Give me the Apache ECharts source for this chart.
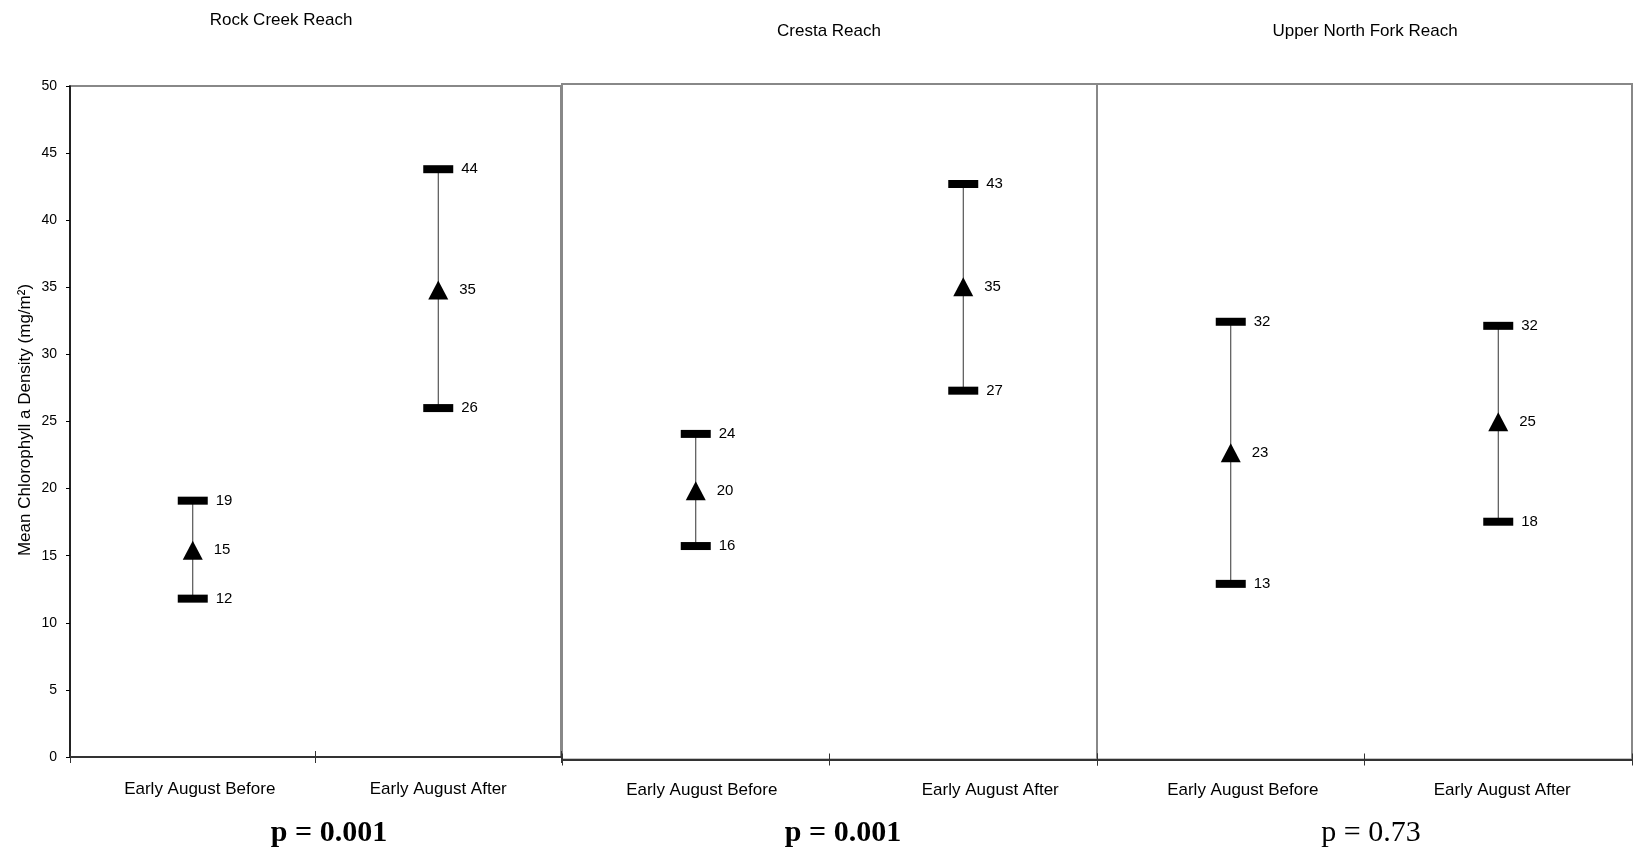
<!DOCTYPE html>
<html>
<head>
<meta charset="utf-8">
<script src="https://cdn.jsdelivr.net/npm/echarts@6/dist/echarts.min.js"></script>
<style>
html,body{margin:0;padding:0;background:#fff;}
#chart{width:1634px;height:859px;}
</style>
</head>
<body>
<div id="chart"></div>
<script>
// ---- data ----
const reaches = ['Rock Creek Reach', 'Cresta Reach', 'Upper North Fork Reach'];
const categories = ['Early August Before', 'Early August After'];
const meanRock = [15.4, 34.8];
const lowRock = [11.8, 26.0];
const highRock = [19.1, 43.8];
const meanCresta = [19.9, 35.0];
const lowCresta = [15.8, 27.3];
const highCresta = [24.1, 42.6];
const meanUpper = [22.7, 25.0];
const lowUpper = [13.0, 17.6];
const highUpper = [32.4, 32.1];
const pValues = ['p = 0.001', 'p = 0.001', 'p = 0.73'];
const pBold = [true, true, false];
const yMin = 0, yMax = 50, yStep = 5;
const yAxisTitle = 'Mean Chlorophyll a Density (mg/m\u00B2)';

// ---- layout ----
const panels = [
  {grid: {left: 70, top: 86, width: 491, height: 671}, mean: meanRock, low: lowRock, high: highRock, titleX: 281, titleY: 20, pX: 329, labelShift: [7, 0]},
  {grid: {left: 562, top: 84, width: 535, height: 675.5}, mean: meanCresta, low: lowCresta, high: highCresta, titleX: 829, titleY: 31, pX: 843, labelShift: [6, 27]},
  {grid: {left: 1097, top: 84, width: 535, height: 675.5}, mean: meanUpper, low: lowUpper, high: highUpper, titleX: 1365, titleY: 31, pX: 1371, labelShift: [12, 4]}
];

const FONT = 'Arial, "Liberation Sans", sans-serif';
const chart = echarts.init(document.getElementById('chart'), null, {renderer: 'canvas'});

const grid = [], xAxis = [], yAxis = [], series = [], graphic = [];

panels.forEach((p, i) => {
  grid.push(Object.assign({show: true, borderColor: '#888', borderWidth: 2, backgroundColor: 'transparent', containLabel: false}, p.grid));
  const rich = {};
  p.labelShift.forEach((s, k) => {
    rich['c' + k] = {fontSize: 17, fontFamily: FONT, color: '#000', padding: [0, 0, 0, 2 * s]};
  });
  xAxis.push({
    type: 'category', gridIndex: i, data: categories, position: 'bottom', boundaryGap: true,
    axisLine: {show: true, lineStyle: {color: '#333', width: 2}},
    axisTick: {show: true, inside: false, length: 6, lineStyle: {color: '#333', width: 1}},
    axisLabel: {show: true, fontSize: 17, fontFamily: FONT, color: '#000', margin: i === 0 ? 24 : 22,
      formatter: (v, idx) => '{c' + idx + '|' + v + '}', rich: rich},
    splitLine: {show: false}
  });
  xAxis.push({
    type: 'category', gridIndex: i, data: categories, position: 'bottom', boundaryGap: true,
    axisLine: {show: false},
    axisTick: {show: true, inside: true, length: 6, lineStyle: {color: '#333', width: 1}},
    axisLabel: {show: false},
    splitLine: {show: false}
  });
  yAxis.push({
    type: 'value', gridIndex: i, min: yMin, max: yMax, interval: yStep,
    show: i === 0,
    axisLine: {show: true, lineStyle: {color: '#000', width: 1.5}},
    axisTick: {show: true, inside: false, length: 4, lineStyle: {color: '#000', width: 1}},
    axisLabel: {fontSize: 14, fontFamily: FONT, color: '#000', margin: 13},
    splitLine: {show: false}
  });

  const xi = i * 2;
  series.push({
    type: 'custom', xAxisIndex: xi, yAxisIndex: i, z: 1,
    data: categories.map((c, k) => [k, p.low[k], p.high[k]]),
    renderItem: function (params, api) {
      const lo = api.coord([api.value(0), api.value(1)]);
      const hi = api.coord([api.value(0), api.value(2)]);
      return {type: 'line', shape: {x1: lo[0], y1: lo[1], x2: hi[0], y2: hi[1]}, style: {stroke: '#333', lineWidth: 1}};
    },
    silent: true
  });
  const capLabel = {show: true, position: 'right', distance: 8, fontSize: 15, fontFamily: FONT, color: '#000',
    formatter: (d) => String(Math.round(d.value[1]))};
  [p.low, p.high].forEach(arr => {
    series.push({
      type: 'scatter', xAxisIndex: xi, yAxisIndex: i, z: 3,
      symbol: 'rect', symbolSize: [30, 8], itemStyle: {color: '#000', opacity: 1},
      data: arr.map((v, k) => [k, v]), label: capLabel, silent: true
    });
  });
  series.push({
    type: 'scatter', xAxisIndex: xi, yAxisIndex: i, z: 3,
    symbol: 'triangle', symbolSize: [20, 19], itemStyle: {color: '#000', opacity: 1},
    data: p.mean.map((v, k) => [k, v]),
    label: {show: true, position: 'right', distance: 11, fontSize: 15, fontFamily: FONT, color: '#000',
      formatter: (d) => String(Math.round(d.value[1]))},
    silent: true
  });

  graphic.push({
    type: 'text', x: p.titleX, y: p.titleY,
    style: {text: reaches[i], font: '17px ' + FONT, fill: '#000', textAlign: 'center', textVerticalAlign: 'middle'}
  });
  graphic.push({
    type: 'text', x: p.pX, y: 833,
    style: {text: pValues[i], font: (pBold[i] ? 'bold ' : '') + '30px "Liberation Serif", "Times New Roman", serif', fill: '#000', textAlign: 'center', textVerticalAlign: 'middle'}
  });
});

graphic.push({
  type: 'text', x: 25, y: 420, rotation: Math.PI / 2,
  style: {text: yAxisTitle, font: '17px ' + FONT, fill: '#000', textAlign: 'center', textVerticalAlign: 'middle'}
});

chart.setOption({
  animation: false,
  backgroundColor: '#fff',
  grid: grid,
  xAxis: xAxis,
  yAxis: yAxis,
  series: series,
  graphic: graphic
});
</script>
</body>
</html>
